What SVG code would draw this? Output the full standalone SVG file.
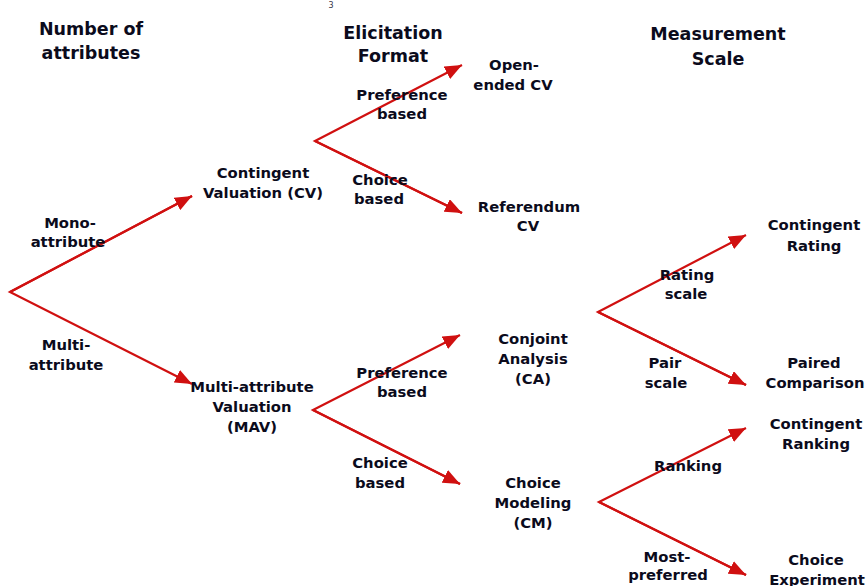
<svg xmlns="http://www.w3.org/2000/svg" width="867" height="586" viewBox="0 0 867 586">
<style>
text{font-family:"DejaVu Sans","Liberation Sans",sans-serif;font-weight:bold;fill:#0b0b1c;text-anchor:middle}
.h{font-size:17.5px}
.n{font-size:14.8px}
.c{fill:none;stroke:#d01010;stroke-width:2.2;stroke-linejoin:miter}
</style>
<defs>
<marker id="ah" markerUnits="userSpaceOnUse" markerWidth="18" markerHeight="14" refX="17" refY="7" orient="auto">
<path d="M0,0 L17,7 L0,14 z" fill="#d01010"/>
</marker>
</defs>
<rect width="867" height="586" fill="#fff"/>
<text x="331" y="8" style="font-size:8px;font-weight:normal;fill:#334">3</text>
<g id="headers">
<text class="h" x="91" y="35">Number of</text>
<text class="h" x="91" y="59">attributes</text>
<text class="h" x="393" y="39">Elicitation</text>
<text class="h" x="393" y="62">Format</text>
<text class="h" x="718" y="40">Measurement</text>
<text class="h" x="718" y="65">Scale</text>
</g>
<g id="connectors">
<path class="c" d="M192,196 L10,292 L192,384" marker-end="url(#ah)"/>
<path class="c" d="M10,292 L192,196" marker-end="url(#ah)"/>
<path class="c" d="M462,213 L315,141 L462,65" marker-end="url(#ah)"/>
<path class="c" d="M315,141 L462,213" marker-end="url(#ah)"/>
<path class="c" d="M460,484 L313,410 L460,335" marker-end="url(#ah)"/>
<path class="c" d="M313,410 L460,484" marker-end="url(#ah)"/>
<path class="c" d="M746,385 L598,312 L746,235" marker-end="url(#ah)"/>
<path class="c" d="M598,312 L746,385" marker-end="url(#ah)"/>
<path class="c" d="M746,575 L599,502 L746,428" marker-end="url(#ah)"/>
<path class="c" d="M599,502 L746,575" marker-end="url(#ah)"/>
</g>
<g id="edge-labels">
<text class="n" x="70" y="228">Mono-</text>
<text class="n" x="68" y="247">attribute</text>
<text class="n" x="66" y="350">Multi-</text>
<text class="n" x="66" y="370">attribute</text>
<text class="n" x="402" y="100">Preference</text>
<text class="n" x="402" y="119">based</text>
<text class="n" x="380" y="185">Choice</text>
<text class="n" x="379" y="204">based</text>
<text class="n" x="402" y="378">Preference</text>
<text class="n" x="402" y="397">based</text>
<text class="n" x="380" y="468">Choice</text>
<text class="n" x="380" y="488">based</text>
<text class="n" x="687" y="280">Rating</text>
<text class="n" x="686" y="299">scale</text>
<text class="n" x="665" y="368">Pair</text>
<text class="n" x="666" y="388">scale</text>
<text class="n" x="688" y="471">Ranking</text>
<text class="n" x="667" y="562">Most-</text>
<text class="n" x="668" y="580">preferred</text>
</g>
<g id="node-cv">
<text class="n" x="263" y="178">Contingent</text>
<text class="n" x="263" y="198">Valuation (CV)</text>
</g>
<g id="node-mav">
<text class="n" x="252" y="392">Multi-attribute</text>
<text class="n" x="252" y="412">Valuation</text>
<text class="n" x="252" y="432">(MAV)</text>
</g>
<g id="node-open-ended">
<text class="n" x="514" y="70">Open-</text>
<text class="n" x="513" y="90">ended CV</text>
</g>
<g id="node-referendum">
<text class="n" x="529" y="212">Referendum</text>
<text class="n" x="528" y="231">CV</text>
</g>
<g id="node-ca">
<text class="n" x="533" y="344">Conjoint</text>
<text class="n" x="533" y="364">Analysis</text>
<text class="n" x="533" y="384">(CA)</text>
</g>
<g id="node-cm">
<text class="n" x="533" y="488">Choice</text>
<text class="n" x="533" y="508">Modeling</text>
<text class="n" x="533" y="528">(CM)</text>
</g>
<g id="node-contingent-rating">
<text class="n" x="814" y="230">Contingent</text>
<text class="n" x="814" y="251">Rating</text>
</g>
<g id="node-paired-comparison">
<text class="n" x="814" y="368">Paired</text>
<text class="n" x="815" y="388">Comparison</text>
</g>
<g id="node-contingent-ranking">
<text class="n" x="816" y="429">Contingent</text>
<text class="n" x="816" y="449">Ranking</text>
</g>
<g id="node-choice-experiment">
<text class="n" x="816" y="565">Choice</text>
<text class="n" x="817" y="585">Experiment</text>
</g>
</svg>
